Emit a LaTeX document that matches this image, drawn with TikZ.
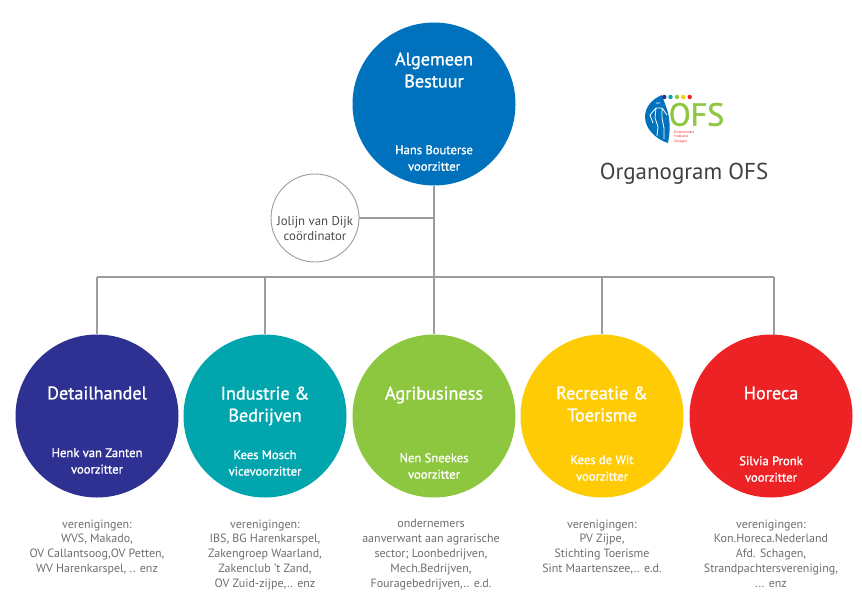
\documentclass[tikz,border=0pt]{standalone}
\usepackage{fontspec}
\setmainfont{PT Sans}
\newfontfamily\semibold[FakeBold=1.2]{PT Sans}
\definecolor{cBlue}{HTML}{0071BC}
\definecolor{cNavy}{HTML}{2E3192}
\definecolor{cTeal}{HTML}{00A5AE}
\definecolor{cGreen}{HTML}{8DC63F}
\definecolor{cYellow}{HTML}{FFCB05}
\definecolor{cRed}{HTML}{ED2224}
\definecolor{cLine}{HTML}{9C9C9C}
\definecolor{cText}{HTML}{6E6E6E}
\tikzset{
  x=1pt,y=-1pt,
  org/.style={circle,minimum size=163pt,inner sep=0pt,draw=none,fill=#1},
  wtitle/.style={text=white,align=center,font=\fontsize{18.2}{22}\semibold},
  wsub/.style={text=white,align=center,font=\fontsize{12.6}{16.5}\semibold},
  list/.style={text=cText,align=center,font=\fontsize{12}{14.8}\selectfont,anchor=north},
  conn/.style={draw=cLine,line width=1.1pt}
}
\begin{document}
\begin{tikzpicture}
\useasboundingbox (0,0) rectangle (862,611);
% junctions
\coordinate (hubC) at (434,218);
\coordinate (hubR) at (434,277);
\coordinate (h1) at (97,277);
\coordinate (h2) at (265,277);
\coordinate (h4) at (602,277);
\coordinate (h5) at (774,277);
\coordinate (e5) at (774,335);
% circles
\node[org=cBlue] (top) at (434,104) {};
\node[org=cNavy] (d) at (97,416) {};
\node[org=cTeal] (i) at (265,416) {};
\node[org=cGreen] (a) at (434,416) {};
\node[org=cYellow] (r) at (602,416) {};
\node[org=cRed] (h) at (771,416) {};
\node[circle,draw=cLine,line width=0.9pt,fill=white,minimum size=88pt,inner sep=0pt] (coord) at (315,218) {};
% connectors
\draw[conn] (top.south) -- (a.north);
\draw[conn] (coord.east) -- (hubC);
\draw[conn] (h1) -- (h5);
\draw[conn] (h1) -- (d.north);
\draw[conn] (h2) -- (i.north);
\draw[conn] (h4) -- (r.north);
\draw[conn] (h5) -- (e5);
% texts
\node[wtitle] (t0) at (434,70) {Algemeen\\Bestuur};
\node[wsub] (s0) at (434,158) {Hans Bouterse\\voorzitter};
\node[wtitle] (t1) at (97,393) {Detailhandel};
\node[wsub] (s1) at (97,461) {Henk van Zanten\\voorzitter};
\node[wtitle] (t2) at (265,406) {Industrie \&\\Bedrijven};
\node[wsub] (s2) at (265,463) {Kees Mosch\\vicevoorzitter};
\node[wtitle] (t3) at (434,395) {Agribusiness};
\node[wsub] (s3) at (434,466) {Nen Sneekes\\voorzitter};
\node[wtitle] (t4) at (602,404) {Recreatie \&\\Toerisme};
\node[wsub] (s4) at (602,468) {Kees de Wit\\voorzitter};
\node[wtitle] (t5) at (771,393) {Horeca};
\node[wsub] (s5) at (771,469) {Silvia Pronk\\voorzitter};
\node[text=black!70,align=center,font=\fontsize{12.8}{15.5}\selectfont] (ct) at (315,228.5) {Jolijn van Dijk\\coördinator};
\node[list] (l1) at (97,516) {verenigingen:\\WVS, Makado,\\OV Callantsoog,OV Petten,\\WV Harenkarspel, .. enz};
\node[list] (l2) at (265,516) {verenigingen:\\IBS, BG Harenkarspel,\\Zakengroep Waarland,\\Zakenclub 't Zand,\\OV Zuid-zijpe,.. enz};
\node[list] (l3) at (431,516) {ondernemers\\aanverwant aan agrarische\\sector; Loonbedrijven,\\Mech.Bedrijven,\\Fouragebedrijven,.. e.d.};
\node[list] (l4) at (602,516) {verenigingen:\\PV Zijpe,\\Stichting Toerisme\\Sint Maartenszee,.. e.d.};
\node[list] (l5) at (771,516) {verenigingen:\\Kon.Horeca.Nederland\\Afd. Schagen,\\Strandpachtersvereniging,\\... enz};
% title
\node[text=black!75,font=\fontsize{23}{27}\selectfont] (title) at (684,173.5) {Organogram OFS};
% logo
\fill[cBlue] (662,95) .. controls (652,99) and (645,107) .. (645,117) .. controls (645,128) and (655,139) .. (668,143) .. controls (670,132) and (670,126) .. (669,118) .. controls (668,110) and (664,102) .. (662,95) -- cycle;
\draw[white,line width=0.8pt,line cap=round] (656,108) -- (650,115) -- (653,123) (656,108) -- (662,108) -- (667,115) (656,108) -- (655,118) -- (658,127) -- (657,136) (662,108) -- (662,118) -- (664,128) -- (664,139) (656,103) -- (660,103);
\fill[cNavy] (664.3,97) circle (2.2pt);
\fill[cTeal] (670.5,97) circle (2.2pt);
\fill[cGreen] (677,97) circle (2.2pt);
\fill[cYellow] (683.3,97) circle (2.2pt);
\fill[cRed] (689.7,97) circle (2.2pt);
\node[text=cGreen,inner sep=0pt,font=\fontsize{32}{32}\semibold] (ofs) at (696.5,114.5) {OFS};
\node[text=cRed,align=left,anchor=north west,inner sep=0pt,font=\fontsize{3.5}{4.3}\selectfont] (ofsn) at (674,131) {Ondernemers\\Federatie\\Schagen};
\end{tikzpicture}
\end{document}
